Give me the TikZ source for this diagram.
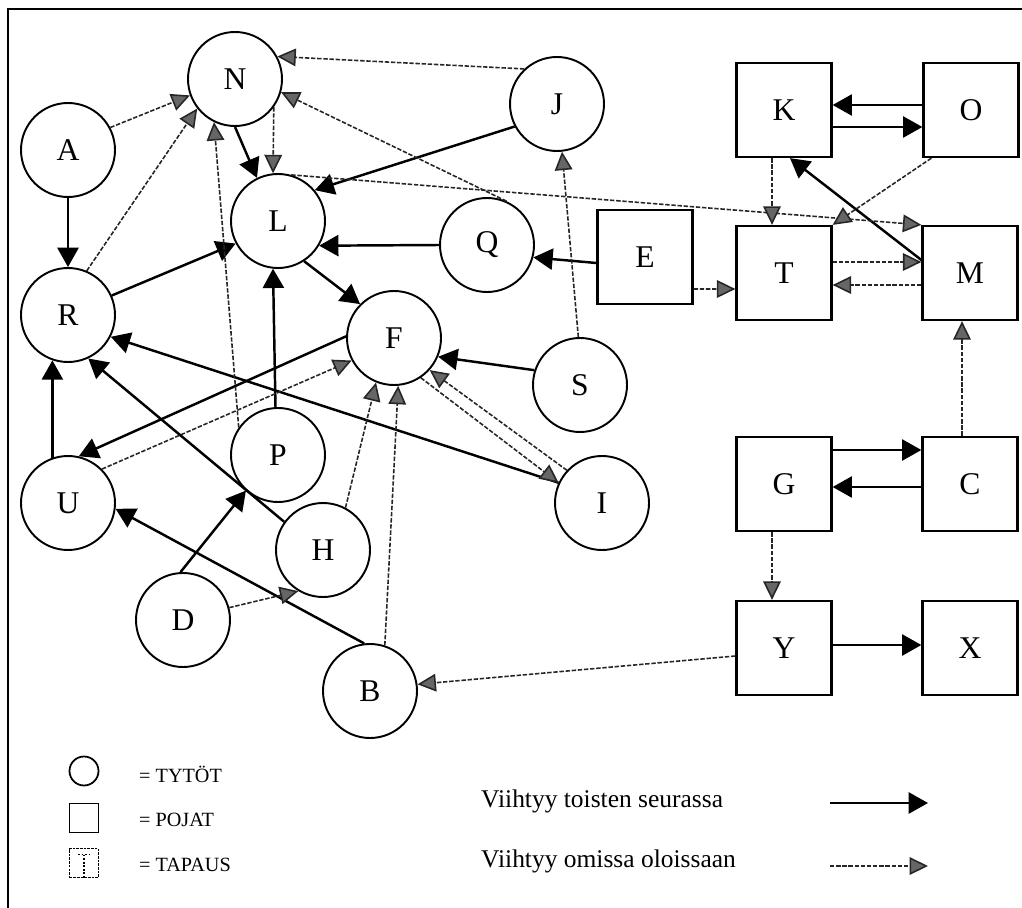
\documentclass[tikz,border=0pt]{standalone}
\usepackage{fontspec}
\setmainfont{Liberation Serif}
\usetikzlibrary{arrows.meta}

\begin{document}
\begin{tikzpicture}[
    girl/.style={
        circle,
        draw,
        line width=1.1pt,
        minimum size=1.88cm,
        inner sep=0pt,
        font=\fontsize{18}{20}\selectfont
    },
    boy/.style={
        rectangle,
        draw,
        line width=1.3pt,
        minimum width=1.9cm,
        minimum height=1.88cm,
        inner sep=0pt,
        font=\fontsize{18}{20}\selectfont
    },
    seura/.style={
        -{Triangle[length=11pt,width=12pt]},
        line width=1.4pt
    },
    oma/.style={
        -{Triangle[length=10.5pt,width=10pt,fill=black!60]},
        draw=black!85,
        line width=0.9pt,
        dash pattern=on 2.5pt off 1pt
    },
    note/.style={
        font=\fontsize{11.5}{13}\selectfont,
        anchor=west
    },
    key/.style={
        font=\fontsize{14.5}{16}\selectfont,
        anchor=west
    }
]
\useasboundingbox (0,0) rectangle (20.44,-18.16);

% Frame
\draw[line width=1.6pt] (0.16,-18.3) -- (0.16,-0.18) -- (20.6,-0.18);

% Girls
\node[girl] (N) at (4.70,-1.58) {N};
\node[girl] (A) at (1.36,-3.00) {A};
\node[girl] (L) at (5.56,-4.42) {L};
\node[girl] (R) at (1.36,-6.30) {R};
\node[girl] (Q) at (9.74,-4.90) {Q};
\node[girl] (F) at (7.88,-6.76) {F};
\node[girl] (J) at (11.14,-2.08) {J};
\node[girl] (S) at (11.60,-7.70) {S};
\node[girl] (I) at (12.04,-10.06) {I};
\node[girl] (U) at (1.36,-10.06) {U};
\node[girl] (P) at (5.56,-9.10) {P};
\node[girl] (H) at (6.46,-11.00) {H};
\node[girl] (D) at (3.66,-12.40) {D};
\node[girl] (B) at (7.40,-13.82) {B};

% Boys
\node[boy] (K) at (15.68,-2.20) {K};
\node[boy] (O) at (19.42,-2.20) {O};
\node[boy] (E) at (12.90,-5.14) {E};
\node[boy] (T) at (15.68,-5.46) {T};
\node[boy] (M) at (19.40,-5.46) {M};
\node[boy] (G) at (15.68,-9.68) {G};
\node[boy] (C) at (19.40,-9.68) {C};
\node[boy] (Y) at (15.68,-12.96) {Y};
\node[boy] (X) at (19.40,-12.96) {X};

% Solid links
\draw[seura] (A) -- (R);
\draw[seura] (N.south) -- (L.116);
\draw[seura] (J.208) -- (L.40);
\draw[seura] (Q.west) -- (L.-31);
\draw[seura] (R.24) -- (L.208);
\draw[seura] (L.-57) -- (F.135);
\draw[seura] (S.162) -- (F.-23);
\draw[seura] (I.155) -- (R.-27);
\draw[seura] (H.144) -- (R.-65);
\draw[seura] (U.109) -- (R.251);
\draw[seura] (F.178) -- (U.77);
\draw[seura] (B.97) -- (U.-7);
\draw[seura] (D.93) -- (P.228);
\draw[seura] (P.93) -- (L.-96);
\draw[seura] ([yshift=-0.12cm]E.west) -- (Q.-15);
\draw[seura] ([yshift=0.1cm]O.west) -- ([yshift=0.1cm]K.east);
\draw[seura] ([yshift=-0.34cm]K.east) -- ([yshift=-0.34cm]O.west);
\draw[seura] ([yshift=0.26cm]M.west) -- ([xshift=0.12cm]K.south);
\draw[seura] ([yshift=0.68cm]G.east) -- ([yshift=0.68cm]C.west);
\draw[seura] ([yshift=-0.06cm]C.west) -- ([yshift=-0.06cm]G.east);
\draw[seura] ([yshift=0.06cm]Y.east) -- ([yshift=0.06cm]X.west);

% Dotted links
\draw[oma] (A.28) -- (N.200);
\draw[oma] (R.67) -- (N.218);
\draw[oma] (J.133) -- (N.28);
\draw[oma] (Q.66) -- (N.-16);
\draw[oma] (N.-36) -- (L.96);
\draw[oma] (P.145) -- (N.244);
\draw[oma] (L.74) -- (M.north west);
\draw[oma] (S.92) -- (J.-84);
\draw[oma] (U.45) -- (F.208);
\draw[oma] (H.62) -- (F.248);
\draw[oma] (B.72) -- (F.275);
\draw[oma] (F.-56) -- (I.155);
\draw[oma] (I.137) -- (F.-42);
\draw[oma] (D.15) -- (H.239);
\draw[oma] ([yshift=-0.16cm]Y.west) -- (B.8);
\draw[oma] ([xshift=-0.24cm]G.south) -- ([xshift=-0.24cm]Y.north);
\draw[oma] ([xshift=-0.16cm]C.north) -- ([xshift=-0.16cm]M.south);
\draw[oma] ([yshift=-0.64cm]E.east) -- ([yshift=-0.32cm]T.west);
\draw[oma] ([yshift=0.22cm]T.east) -- ([yshift=0.22cm]M.west);
\draw[oma] ([yshift=-0.24cm]M.west) -- ([yshift=-0.24cm]T.east);
\draw[oma] ([xshift=-0.24cm]K.south) -- ([xshift=-0.24cm]T.north);
\draw[oma] ([xshift=0.18cm]O.south west) -- (T.north east);

% Legend
\node[circle, draw, line width=1pt, minimum size=0.58cm, inner sep=0pt] (keygirl) at (1.68,-15.42) {};
\node[draw, line width=1pt, minimum size=0.58cm, inner sep=0pt] (keyboy) at (1.68,-16.36) {};
\node[draw, line width=0.9pt, dash pattern=on 1.5pt off 0.6pt, minimum size=0.58cm, inner sep=0pt] (keycase) at (1.68,-17.26) {};
\draw[line width=0.6pt, dash pattern=on 1pt off 1pt] ([xshift=-0.12cm,yshift=-0.14cm]keycase.north) -- ([xshift=0.12cm,yshift=-0.14cm]keycase.north);
\draw[line width=0.6pt, dash pattern=on 1pt off 1pt] ([yshift=-0.14cm]keycase.north) -- (keycase.south);
\node[note] (tytot) at (2.66,-15.48) {= TYTÖT};
\node[note] (pojat) at (2.66,-16.40) {= POJAT};
\node[note] (tapaus) at (2.66,-17.30) {= TAPAUS};

\node[key] (toisten) at (9.5,-16.02) {Viihtyy toisten seurassa};
\node[key] (omissa) at (9.5,-17.22) {Viihtyy omissa oloissaan};
\coordinate (s1) at (16.6,-16.06);
\coordinate (s2) at (18.56,-16.06);
\coordinate (o1) at (16.6,-17.32);
\coordinate (o2) at (18.56,-17.32);
\draw[seura] (s1) -- (s2);
\draw[oma] (o1) -- (o2);

\end{tikzpicture}
\end{document}
